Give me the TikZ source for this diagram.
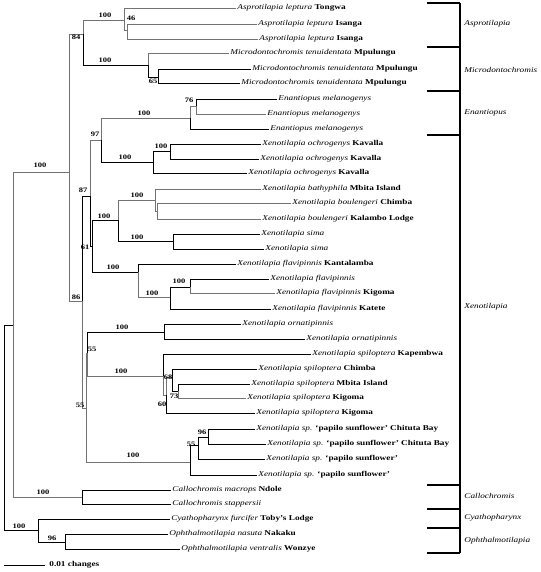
\documentclass[tikz,border=0pt]{standalone}
\usepackage{fontspec}
\setmainfont{Liberation Serif}[FakeStretch=1.25]
\usepackage{tikz}
\usetikzlibrary{positioning}

\begin{document}
\begin{tikzpicture}[x=1pt,y=-1pt,line width=0.8pt,
                    font=\fontsize{7.4}{8}\selectfont]
  \tikzstyle{leaf}=[anchor=west,inner sep=1pt,text height=5pt,text depth=1.5pt]
  \tikzstyle{boot}=[font=\fontsize{6.8}{7}\selectfont\bfseries,inner sep=0pt]
  \tikzstyle{br}=[draw=black]
  \tikzstyle{brg}=[draw=black!55]
  \tikzstyle{grp}=[line width=1.2pt]
  \tikzstyle{genus}=[anchor=west,inner sep=1pt,font=\fontsize{7.4}{8}\selectfont\itshape]

  \useasboundingbox (0,0) rectangle (540,572);

  % taxa
  \node[leaf] (L1)  at (236,8)   {\textit{Asprotilapia leptura} \textbf{Tongwa}};
  \node[leaf] (L2)  at (257,24)  {\textit{Asprotilapia leptura} \textbf{Isanga}};
  \node[leaf] (L3)  at (258,39)  {\textit{Asprotilapia leptura} \textbf{Isanga}};
  \node[leaf] (L4)  at (229,53)  {\textit{Microdontochromis tenuidentata} \textbf{Mpulungu}};
  \node[leaf] (L5)  at (251,69)  {\textit{Microdontochromis tenuidentata} \textbf{Mpulungu}};
  \node[leaf] (L6)  at (240,83)  {\textit{Microdontochromis tenuidentata} \textbf{Mpulungu}};
  \node[leaf] (L7)  at (277,99)  {\textit{Enantiopus melanogenys}};
  \node[leaf] (L8)  at (266,114) {\textit{Enantiopus melanogenys}};
  \node[leaf] (L9)  at (269,129) {\textit{Enantiopus melanogenys}};
  \node[leaf] (L10) at (261,144) {\textit{Xenotilapia ochrogenys} \textbf{Kavalla}};
  \node[leaf] (L11) at (259,159) {\textit{Xenotilapia ochrogenys} \textbf{Kavalla}};
  \node[leaf] (L12) at (247,173) {\textit{Xenotilapia ochrogenys} \textbf{Kavalla}};
  \node[leaf] (L13) at (261,189) {\textit{Xenotilapia bathyphila} \textbf{Mbita Island}};
  \node[leaf] (L14) at (291,203) {\textit{Xenotilapia boulengeri} \textbf{Chimba}};
  \node[leaf] (L15) at (261,219) {\textit{Xenotilapia boulengeri} \textbf{Kalambo Lodge}};
  \node[leaf] (L16) at (260,234) {\textit{Xenotilapia sima}};
  \node[leaf] (L17) at (264,249) {\textit{Xenotilapia sima}};
  \node[leaf] (L18) at (236,264) {\textit{Xenotilapia flavipinnis} \textbf{Kantalamba}};
  \node[leaf] (L19) at (269,279) {\textit{Xenotilapia flavipinnis}};
  \node[leaf] (L20) at (275,293) {\textit{Xenotilapia flavipinnis} \textbf{Kigoma}};
  \node[leaf] (L21) at (271,309) {\textit{Xenotilapia flavipinnis} \textbf{Katete}};
  \node[leaf] (L22) at (241,324) {\textit{Xenotilapia ornatipinnis}};
  \node[leaf] (L23) at (305,339) {\textit{Xenotilapia ornatipinnis}};
  \node[leaf] (L24) at (311,354) {\textit{Xenotilapia spiloptera} \textbf{Kapembwa}};
  \node[leaf] (L25) at (257,369) {\textit{Xenotilapia spiloptera} \textbf{Chimba}};
  \node[leaf] (L26) at (250,384) {\textit{Xenotilapia spiloptera} \textbf{Mbita Island}};
  \node[leaf] (L27) at (246,398) {\textit{Xenotilapia spiloptera} \textbf{Kigoma}};
  \node[leaf] (L28) at (255,413) {\textit{Xenotilapia spiloptera} \textbf{Kigoma}};
  \node[leaf] (L29) at (255,429) {\textit{Xenotilapia sp.} \textbf{`papilo sunflower' Chituta Bay}};
  \node[leaf] (L30) at (266,444) {\textit{Xenotilapia sp.} \textbf{`papilo sunflower' Chituta Bay}};
  \node[leaf] (L31) at (265,459) {\textit{Xenotilapia sp.} \textbf{`papilo sunflower'}};
  \node[leaf] (L32) at (257,475) {\textit{Xenotilapia sp.} \textbf{`papilo sunflower'}};
  \node[leaf] (L33) at (171,490) {\textit{Callochromis macrops} \textbf{Ndole}};
  \node[leaf] (L34) at (171,504) {\textit{Callochromis stappersii}};
  \node[leaf] (L35) at (170,519) {\textit{Cyathopharynx furcifer} \textbf{Toby's Lodge}};
  \node[leaf] (L36) at (168,534) {\textit{Ophthalmotilapia nasuta} \textbf{Nakaku}};
  \node[leaf] (L37) at (180,549) {\textit{Ophthalmotilapia ventralis} \textbf{Wonzye}};

  % internal nodes
  \coordinate (R)     at (4,430);
  \coordinate (A)     at (13,325);
  \coordinate (B)     at (69,172);
  \coordinate (n84)   at (83,34);
  \coordinate (Asp)   at (124,20);
  \coordinate (n46)   at (127,30);
  \coordinate (Mic)   at (148,65);
  \coordinate (n65)   at (158,77);
  \coordinate (n86)   at (82,301);
  \coordinate (n87)   at (90,196);
  \coordinate (n97)   at (101,140);
  \coordinate (Ena)   at (190,118);
  \coordinate (n76)   at (196,106);
  \coordinate (Och)   at (153,162);
  \coordinate (n100o) at (170,151);
  \coordinate (n61)   at (92,246);
  \coordinate (n118)  at (118,220);
  \coordinate (Bou)   at (155,200);
  \coordinate (nB)    at (157,211);
  \coordinate (Sima)  at (173,241);
  \coordinate (Fla)   at (138,272);
  \coordinate (nF)    at (170,297);
  \coordinate (nF2)   at (190,287);
  \coordinate (n55a)  at (86,408);
  \coordinate (n55b)  at (87.5,353);
  \coordinate (Orn)   at (164,332);
  \coordinate (Spi)   at (163,376);
  \coordinate (n60)   at (166,395);
  \coordinate (n68)   at (172,377);
  \coordinate (n73)   at (178,391);
  \coordinate (Pap)   at (190,462);
  \coordinate (n55c)  at (198,445);
  \coordinate (n96)   at (208,437);
  \coordinate (Call)  at (82,497);
  \coordinate (Cy)    at (38,530);
  \coordinate (nO)    at (65,542);

  % branches
  \draw[br]  (R) |- (A)  (R) |- (Cy);
  \draw[brg] (A) |- (B)  (A) |- (Call);
  \draw[brg] (B) |- (n84)  (B) |- (n86);
  \draw[brg] (n84) |- (Asp);
  \draw[br]  (n84) |- (Mic);
  \draw[brg] (Asp) |- (L1.west)  (Asp) |- (n46);
  \draw[brg] (n46) |- (L2.west)  (n46) |- (L3.west);
  \draw[brg] (Mic) |- (L4.west);
  \draw[br]  (Mic) |- (n65);
  \draw[br]  (n65) |- (L5.west)  (n65) |- (L6.west);
  \draw[br]  (n86) |- (n87);
  \draw[brg] (n86) |- (n55a);
  \draw[brg] (n87) |- (n97);
  \draw[br]  (n87) |- (n61);
  \draw[brg] (n97) |- (Ena);
  \draw[br]  (n97) |- (Och);
  \draw[brg] (Ena) |- (n76);
  \draw[br]  (Ena) |- (L9.west);
  \draw[br]  (n76) |- (L7.west);
  \draw[brg] (n76) |- (L8.west);
  \draw[br]  (Och) |- (n100o)  (Och) |- (L12.west);
  \draw[br]  (n100o) |- (L10.west)  (n100o) |- (L11.west);
  \draw[br]  (n61) |- (n118)  (n61) |- (Fla);
  \draw[brg] (n118) |- (Bou);
  \draw[br]  (n118) |- (Sima);
  \draw[brg] (Bou) |- (L13.west)  (Bou) |- (nB);
  \draw[brg] (nB) |- (L14.west)  (nB) |- (L15.west);
  \draw[br]  (Sima) |- (L16.west)  (Sima) |- (L17.west);
  \draw[br]  (Fla) |- (L18.west);
  \draw[brg] (Fla) |- (nF);
  \draw[br]  (nF) |- (nF2)  (nF) |- (L21.west);
  \draw[br]  (nF2) |- (L19.west);
  \draw[brg] (nF2) |- (L20.west);
  \draw[brg] (n55a) |- (n55b)  (n55a) |- (Pap);
  \draw[br]  (n55b) |- (Orn);
  \draw[brg] (n55b) |- (Spi);
  \draw[br]  (Orn) |- (L22.west)  (Orn) |- (L23.west);
  \draw[br]  (Spi) |- (L24.west);
  \draw[brg] (Spi) |- (n60);
  \draw[brg] (n60) |- (n68);
  \draw[br]  (n60) |- (L28.west);
  \draw[br]  (n68) |- (L25.west)  (n68) |- (n73);
  \draw[br]  (n73) |- (L26.west);
  \draw[brg] (n73) |- (L27.west);
  \draw[br]  (Pap) |- (n55c)  (Pap) |- (L32.west);
  \draw[br]  (n55c) |- (n96)  (n55c) |- (L31.west);
  \draw[br]  (n96) |- (L29.west)  (n96) |- (L30.west);
  \draw[br]  (Call) |- (L33.west)  (Call) |- (L34.west);
  \draw[br]  (Cy) |- (L35.west)  (Cy) |- (nO);
  \draw[br]  (nO) |- (L36.west)  (nO) |- (L37.west);

  % bootstrap values
  \node[boot] (b1)  at (40,165)  {100};
  \node[boot] (b2)  at (76,37)   {84};
  \node[boot] (b3)  at (105,15)  {100};
  \node[boot] (b4)  at (131,18)  {46};
  \node[boot] (b5)  at (105,60)  {100};
  \node[boot] (b6)  at (153,81)  {65};
  \node[boot] (b7)  at (189,100) {76};
  \node[boot] (b8)  at (144,113) {100};
  \node[boot] (b9)  at (95,134)  {97};
  \node[boot] (b10) at (125,157) {100};
  \node[boot] (b11) at (161,146) {100};
  \node[boot] (b12) at (83,190)  {87};
  \node[boot] (b13) at (137,195) {100};
  \node[boot] (b14) at (104,216) {100};
  \node[boot] (b15) at (137,237) {100};
  \node[boot] (b16) at (85,247)  {61};
  \node[boot] (b17) at (113,267) {100};
  \node[boot] (b18) at (179,281) {100};
  \node[boot] (b19) at (152,293) {100};
  \node[boot] (b20) at (76,297)  {86};
  \node[boot] (b21) at (122,327) {100};
  \node[boot] (b22) at (92,349)  {55};
  \node[boot] (b23) at (121,371) {100};
  \node[boot] (b24) at (168,377) {68};
  \node[boot] (b25) at (174,396) {73};
  \node[boot] (b26) at (162,404) {60};
  \node[boot] (b27) at (80,405)  {55};
  \node[boot] (b28) at (202,432) {96};
  \node[boot] (b29) at (191,444) {55};
  \node[boot] (b30) at (133,455) {100};
  \node[boot] (b31) at (43,492)  {100};
  \node[boot] (b32) at (19,526)  {100};
  \node[boot] (b33) at (52,538)  {96};

  % genus brackets
  \draw[grp] (460,3) -- (460,553);
  \foreach \t in {3,47,91,135,485,509,528,553}
    \draw[grp] (427,\t) -- (460,\t);
  \node[genus] (gAsp) at (463,24)  {Asprotilapia};
  \node[genus] (gMic) at (463,70)  {Microdontochromis};
  \node[genus] (gEna) at (463,113) {Enantiopus};
  \node[genus] (gXen) at (463,307) {Xenotilapia};
  \node[genus] (gCal) at (463,496) {Callochromis};
  \node[genus] (gCya) at (463,518) {Cyathopharynx};
  \node[genus] (gOph) at (463,541) {Ophthalmotilapia};

  % scale bar
  \coordinate (sbL) at (4,565);
  \coordinate (sbR) at (45,565);
  \draw[br] (sbL) -- (sbR);
  \node[boot,right=4pt of sbR,font=\fontsize{7.4}{8}\selectfont\bfseries] (sbT) {0.01 changes};
\end{tikzpicture}
\end{document}
